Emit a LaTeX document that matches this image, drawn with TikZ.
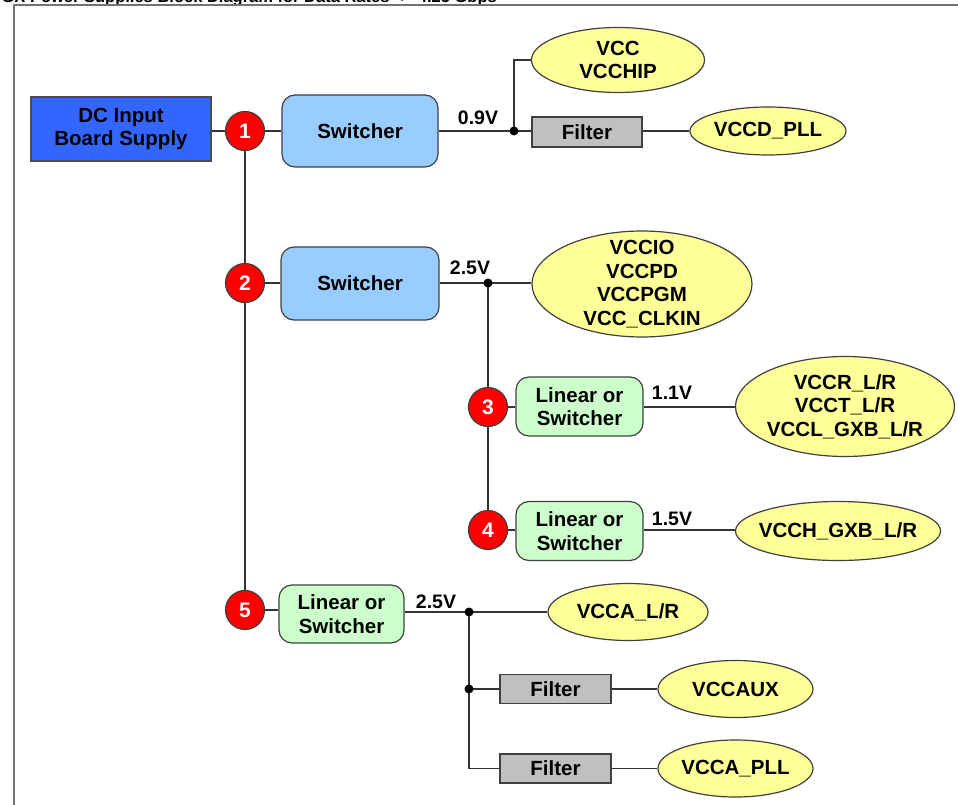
\documentclass[tikz,border=0pt]{standalone}
\usepackage{fontspec}
\setmainfont{Liberation Sans}
\usetikzlibrary{shapes.geometric}
\definecolor{dcblue}{HTML}{3366FF}
\definecolor{swblue}{HTML}{99CCFF}
\definecolor{lingreen}{HTML}{CCFFCC}
\definecolor{fltgray}{HTML}{C0C0C0}
\definecolor{elyellow}{HTML}{FFFF99}
\definecolor{numred}{HTML}{FF0000}
\definecolor{edge}{HTML}{404040}
\pgfdeclarelayer{wires}
\pgfsetlayers{wires,main}
\begin{document}
\begin{tikzpicture}[x=1pt,y=-1pt,
  lbl/.style={font=\bfseries\fontsize{20.5}{23.5}\selectfont, align=center, inner sep=0pt},
  box/.style={lbl, draw=edge, line width=1.2pt},
  dcbox/.style={box, fill=dcblue, draw=black!70},
  swbox/.style={box, rounded corners=13pt, fill=swblue},
  linbox/.style={box, rounded corners=13pt, fill=lingreen},
  fltbox/.style={box, fill=fltgray},
  ell/.style={ellipse, draw=edge, line width=1.2pt, fill=elyellow, inner sep=0pt},
  num/.style={circle, fill=numred, draw=edge, line width=1.2pt, text=white, minimum size=39pt, inner sep=0pt, font=\bfseries\fontsize{21}{21}\selectfont},
  wire/.style={draw=black!80, line width=1.8pt},
  jdot/.style={circle, fill=black, inner sep=0pt, minimum size=9pt},
  volt/.style={font=\bfseries\fontsize{19.5}{20}\selectfont, inner sep=0pt},
  frame/.style={draw=black!55, line width=2pt}
]
\useasboundingbox (0,0) rectangle (958,805);

% title (cut at the top, as in the reference) and frame
\node[font=\bfseries\fontsize{16.5}{16.5}\selectfont, anchor=base east, inner sep=0pt] (title) at (497,2.5) {GX Power Supplies Block Diagram for Data Rates <= 4.25 Gbps};
\coordinate (fbl) at (14,810);
\coordinate (ftl) at (14,5);
\coordinate (ftr) at (965,5);
\draw[frame] (fbl) -- (ftl) -- (ftr);

% blocks
\node[dcbox, minimum width=180pt, minimum height=64pt] (dc) at (121,129) {DC Input\\Board Supply};
\node[swbox, minimum width=156pt, minimum height=72pt] (sw1) at (360,131) {Switcher};
\node[swbox, minimum width=158pt, minimum height=73pt] (sw2) at (360,283.5) {Switcher};
\node[linbox, minimum width=127pt, minimum height=59pt] (lin3) at (579.5,406.5) {Linear or\\Switcher};
\node[linbox, minimum width=127pt, minimum height=59pt] (lin4) at (579.5,531) {Linear or\\Switcher};
\node[linbox, minimum width=125pt, minimum height=58pt] (lin5) at (341.5,614) {Linear or\\Switcher};
\node[fltbox, minimum width=110pt, minimum height=30pt] (f1) at (587,132) {Filter};
\node[fltbox, minimum width=111pt, minimum height=29pt] (f2) at (555.5,689) {Filter};
\node[fltbox, minimum width=111pt, minimum height=29pt] (f3) at (555.5,768.5) {Filter};

% ellipses
\node[ell, minimum width=173pt, minimum height=65pt] (vcc) at (618,60) {};
\node[lbl] (vcct) at (vcc) {VCC\\VCCHIP};
\node[ell, minimum width=156pt, minimum height=48pt] (vccd) at (768,131) {};
\node[lbl] (vccdt) at (vccd) {VCCD\_PLL};
\node[ell, minimum width=220pt, minimum height=106pt] (vio) at (642,284) {};
\node[lbl] (viot) at (vio) {VCCIO\\VCCPD\\VCCPGM\\VCC\_CLKIN};
\node[ell, minimum width=219pt, minimum height=100pt] (vccr) at (845,406.5) {};
\node[lbl] (vccrt) at (vccr) {VCCR\_L/R\\VCCT\_L/R\\VCCL\_GXB\_L/R};
\node[ell, minimum width=205pt, minimum height=59pt] (vcch) at (838,531) {};
\node[lbl] (vccht) at (vcch) {VCCH\_GXB\_L/R};
\node[ell, minimum width=160pt, minimum height=57pt] (vcca) at (628,612) {};
\node[lbl] (vccat) at (vcca) {VCCA\_L/R};
\node[ell, minimum width=155pt, minimum height=57pt] (aux) at (735.5,689) {};
\node[lbl] (auxt) at (aux) {VCCAUX};
\node[ell, minimum width=155pt, minimum height=57pt] (pll) at (735.5,768.5) {};
\node[lbl] (pllt) at (pll) {VCCA\_PLL};

% junction dots
\node[jdot] (j1) at (514,131) {};
\node[jdot] (j2) at (488,283) {};
\node[jdot] (j3) at (469,612) {};
\node[jdot] (j4) at (469,689) {};

% numbered circles
\node[num] (n1) at (245,131) {1};
\node[num] (n2) at (245,283) {2};
\node[num] (n3) at (488,407) {3};
\node[num] (n4) at (488,530) {4};
\node[num] (n5) at (245,610) {5};

% wires (behind the nodes)
\begin{pgfonlayer}{wires}
\draw[wire] (dc.east |- n1) -- (n1.center) -- (sw1.west |- n1);
\draw[wire] (n1.center) -- (n2.center) -- (n5.center);
\draw[wire] (n2.center) -- (sw2.west |- n2);
\draw[wire] (n5.center) -- (lin5.west |- n5);
\draw[wire] (sw1.east |- j1) -- (j1.center);
\draw[wire] (j1.center) |- (vcc.west);
\draw[wire] (j1.center) -- (f1.west |- j1);
\draw[wire] (f1.east |- vccd) -- (vccd.west);
\draw[wire] (sw2.east |- j2) -- (j2.center) -- (vio.west |- j2);
\draw[wire] (j2.center) -- (n3.center) -- (n4.center);
\draw[wire] (n3.center) -- (lin3.west |- n3);
\draw[wire] (lin3.east |- n3) -- (vccr.west |- n3);
\draw[wire] (n4.center) -- (lin4.west |- n4);
\draw[wire] (lin4.east |- n4) -- (vcch.west |- n4);
\draw[wire] (lin5.east |- j3) -- (j3.center) -- (vcca.west);
\draw[wire] (j3.center) -- (j4.center);
\draw[wire] (j4.center) -- (f2.west);
\draw[wire] (j4.center) |- (f3.west);
\draw[wire] (f2.east) -- (aux.west);
\draw[wire] (f3.east) -- (pll.west);
\end{pgfonlayer}

% voltage labels
\node[volt] (v1) at (478,118) {0.9V};
\node[volt] (v2) at (470,268) {2.5V};
\node[volt] (v3) at (672,393) {1.1V};
\node[volt] (v4) at (672,519) {1.5V};
\node[volt] (v5) at (436,602) {2.5V};
\end{tikzpicture}
\end{document}
